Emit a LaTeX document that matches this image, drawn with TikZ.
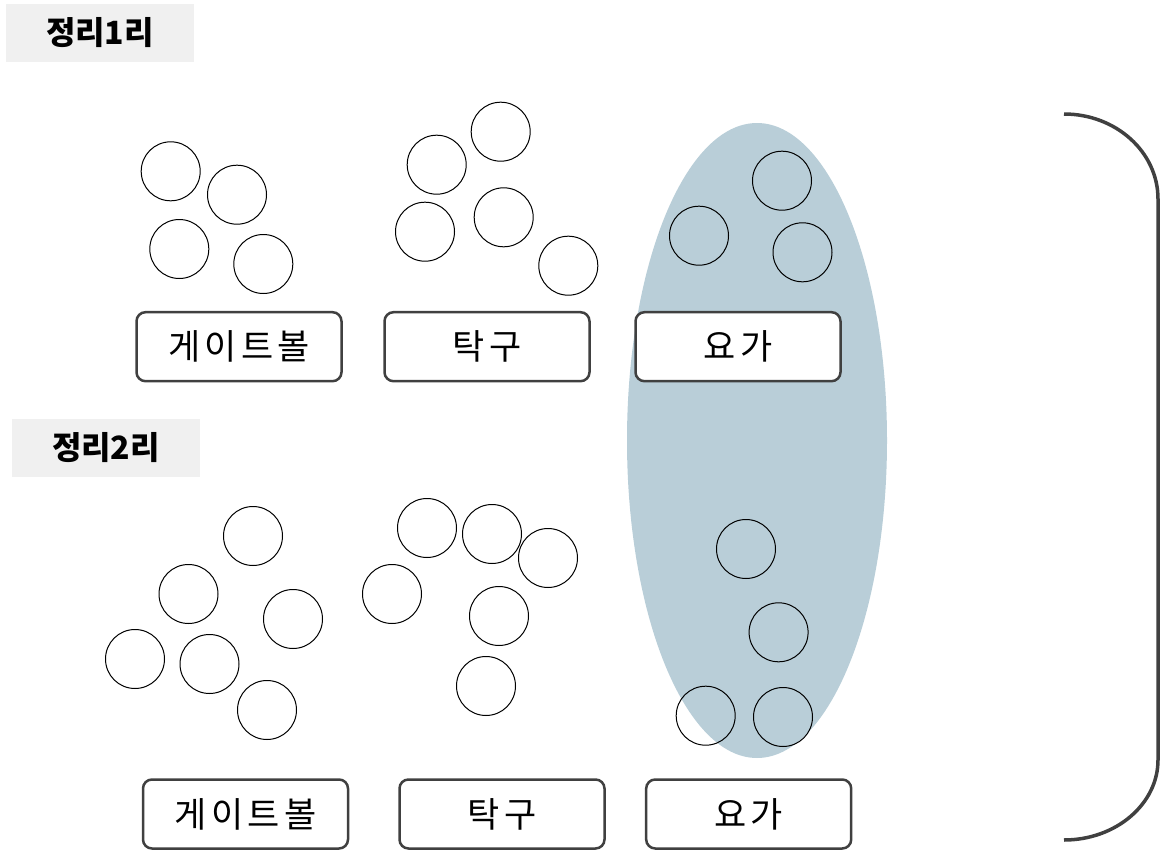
\documentclass[tikz,border=0pt]{standalone}
\usepackage{fontspec}
\setmainfont{Noto Sans CJK KR}
\usepackage{tikz}
\usetikzlibrary{positioning}
\definecolor{colorhd}{HTML}{F0F0F0}
\definecolor{colorgrp}{HTML}{B9CED8}
\definecolor{colorln}{HTML}{404040}
\tikzset{
  ball/.style={draw, circle, minimum size=59pt, inner sep=0pt, line width=1pt},
  sport/.style={draw=colorln, line width=2.5pt, rounded corners=9pt, fill=white,
    minimum width=205pt, minimum height=69pt,
    font=\fontsize{35}{40}\selectfont\addfontfeatures{LetterSpace=12}},
  header/.style={fill=colorhd, minimum width=188pt, minimum height=58pt,
    font=\fontsize{32}{36}\selectfont\bfseries},
  brace/.style={colorln, line width=3.5pt}
}

\begin{document}
\begin{tikzpicture}[x=1pt, y=-1pt]
\useasboundingbox (0,0) rectangle (1160,851);
\fill[colorgrp] (757,440.5) ellipse [x radius=130, y radius=317.5];
\node[header] (h1) at (100,33) {정리1리};
\node[header] (h2) at (106,448) {정리2리};
% round 1
\foreach \n/\x/\y in {ga1/170.7/171.3, ga2/237/194.7, ga3/179.3/249, ga4/263.3/264,
  ta1/436.7/164.7, ta2/500.7/131.7, ta3/425/231.7, ta4/503.7/217.3, ta5/568.3/265.7,
  ya1/782/180.7, ya2/699/235.7, ya3/802.5/252.3}
  \node[ball] (\n) at (\x,\y) {};
\node[sport] (g1) at (239,346.7) {게이트볼};
\node[sport] (t1) at (487,346.7) {탁구};
\node[sport] (y1) at (738,346.7) {요가};
% round 2
\foreach \n/\x/\y in {gb1/253/536, gb2/188.5/594, gb3/293/619, gb4/135/659, gb5/209.5/664, gb6/267/710,
  tb1/427/528, tb2/492/534, tb3/548/558, tb4/392/594, tb5/499/616, tb6/486/686,
  yb1/746/549, yb2/778.6/632.3, yb3/705.7/715.7, yb4/783/717}
  \node[ball] (\n) at (\x,\y) {};
\node[sport] (g2) at (245.5,814) {게이트볼};
\node[sport] (t2) at (502,814) {탁구};
\node[sport] (y2) at (748.7,814) {요가};
% bracket
\coordinate (bt) at (1064,114);
\coordinate (bb) at (1064,840);
\draw[brace] (bt) .. controls (1116,114) and (1158,152) .. (1158,199)
  -- (1158,760) .. controls (1158,804) and (1116,840) .. (bb);
\end{tikzpicture}
\end{document}
